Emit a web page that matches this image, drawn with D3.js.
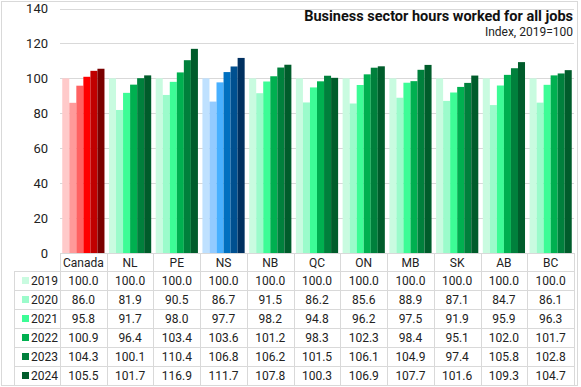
<!DOCTYPE html>
<html>
<head>
<meta charset="utf-8">
<script src="https://cdn.jsdelivr.net/npm/d3@7"></script>
<style>
  body { margin: 0; background: #fff; }
  svg { display: block; }
</style>
</head>
<body>
<div id="chart"></div>
<script>
// categories and series
const regions = ["Canada", "NL", "PE", "NS", "NB", "QC", "ON", "MB", "SK", "AB", "BC"];
const years = ["2019", "2020", "2021", "2022", "2023", "2024"];
const v2019 = [100.0, 100.0, 100.0, 100.0, 100.0, 100.0, 100.0, 100.0, 100.0, 100.0, 100.0];
const v2020 = [86.0, 81.9, 90.5, 86.7, 91.5, 86.2, 85.6, 88.9, 87.1, 84.7, 86.1];
const v2021 = [95.8, 91.7, 98.0, 97.7, 98.2, 94.8, 96.2, 97.5, 91.9, 95.9, 96.3];
const v2022 = [100.9, 96.4, 103.4, 103.6, 101.2, 98.3, 102.3, 98.4, 95.1, 102.0, 101.7];
const v2023 = [104.3, 100.1, 110.4, 106.8, 106.2, 101.5, 106.1, 104.9, 97.4, 105.8, 102.8];
const v2024 = [105.5, 101.7, 116.9, 111.7, 107.8, 100.3, 106.9, 107.7, 101.6, 109.3, 104.7];
const yTicks = [0, 20, 40, 60, 80, 100, 120, 140];

const series = [v2019, v2020, v2021, v2022, v2023, v2024];

// colour ramps per year
const greens = ["#c9fbe0", "#9bfbcb", "#3dfc96", "#00b050", "#00803c", "#005c2b"];
const reds = ["#ffcaca", "#ff9a9a", "#ff6262", "#ff0000", "#c00000", "#7a0000"];
const blues = ["#bfe1ff", "#93cbff", "#48b0ff", "#0070c0", "#005090", "#003060"];

function colorFor(region, i) {
    if (region === "Canada") return reds[i];
    if (region === "NS") return blues[i];
    return greens[i];
}

const W = 581, H = 387;
const margin = { top: 8.5, left: 60, right: 7, axisY: 253 };
const font = "Roboto, 'Liberation Sans', Arial, sans-serif";
const grid = "#d9d9d9";

const svg = d3.select("#chart").append("svg")
    .attr("width", W).attr("height", H)
    .attr("font-family", font);

// outer border
svg.append("rect")
    .attr("x", 1.5).attr("y", 1.5)
    .attr("width", W - 5).attr("height", H - 3)
    .attr("fill", "#fff").attr("stroke", "#d9d9d9");

const x = d3.scaleBand()
    .domain(regions)
    .range([margin.left, W - margin.right])
    .paddingInner(0).paddingOuter(0);

const xYear = d3.scaleBand()
    .domain(years)
    .range([0, x.bandwidth()])
    .paddingInner(0)
    .paddingOuter(0.32);

const y = d3.scaleLinear()
    .domain([0, 140])
    .range([margin.axisY, margin.top]);

// gridlines
svg.append("g")
    .selectAll("line")
    .data(yTicks.filter(d => d > 0))
    .join("line")
    .attr("x1", margin.left).attr("x2", W - margin.right)
    .attr("y1", d => Math.round(y(d)) + 0.5)
    .attr("y2", d => Math.round(y(d)) + 0.5)
    .attr("stroke", grid);

// y axis labels
svg.append("g")
    .selectAll("text")
    .data(yTicks)
    .join("text")
    .attr("x", 48)
    .attr("y", d => y(d))
    .attr("dy", "0.35em")
    .attr("text-anchor", "end")
    .attr("font-size", 13)
    .attr("fill", "#222")
    .text(d => d);

// bars
const groups = svg.append("g")
    .selectAll("g")
    .data(regions)
    .join("g")
    .attr("transform", d => `translate(${x(d)},0)`);

groups.selectAll("rect")
    .data((r, ri) => years.map((yr, i) => ({ region: r, year: yr, i: i, value: series[i][ri] })))
    .join("rect")
    .attr("x", d => xYear(d.year))
    .attr("width", xYear.bandwidth())
    .attr("y", d => y(d.value))
    .attr("height", d => y(0) - y(d.value))
    .attr("fill", d => colorFor(d.region, d.i));

// data table
const rowH = 19;
const headTop = margin.axisY;
const headH = 18;
const tableLeft = 14;
const tableRight = W - margin.right;
const tableBottom = headTop + headH + rowH * years.length;

const table = svg.append("g");

// horizontal lines
const hLines = [headTop + headH].concat(years.map((yr, i) => headTop + headH + rowH * (i + 1)));
table.selectAll("line.h")
    .data(hLines)
    .join("line")
    .attr("class", "h")
    .attr("x1", tableLeft).attr("x2", tableRight)
    .attr("y1", d => Math.round(d) + 0.5).attr("y2", d => Math.round(d) + 0.5)
    .attr("stroke", grid);

// axis line at 0 across plot
table.append("line")
    .attr("x1", margin.left).attr("x2", tableRight)
    .attr("y1", Math.round(headTop) + 0.5).attr("y2", Math.round(headTop) + 0.5)
    .attr("stroke", grid);

// vertical lines
const vLines = regions.map(r => x(r)).concat([tableRight]);
table.selectAll("line.v")
    .data(vLines)
    .join("line")
    .attr("class", "v")
    .attr("x1", d => Math.round(d) + 0.5).attr("x2", d => Math.round(d) + 0.5)
    .attr("y1", headTop).attr("y2", tableBottom)
    .attr("stroke", grid);
table.append("line")
    .attr("x1", tableLeft + 0.5).attr("x2", tableLeft + 0.5)
    .attr("y1", headTop + headH).attr("y2", tableBottom)
    .attr("stroke", grid);

// header labels
table.selectAll("text.head")
    .data(regions)
    .join("text")
    .attr("class", "head")
    .attr("x", d => x(d) + x.bandwidth() / 2)
    .attr("y", headTop + headH / 2 + 1)
    .attr("dy", "0.35em")
    .attr("text-anchor", "middle")
    .attr("font-size", 12)
    .attr("fill", "#222")
    .text(d => d);

// rows
years.forEach((yr, i) => {
    const cy = headTop + headH + rowH * i + rowH / 2;
    table.append("rect")
        .attr("x", 22).attr("y", cy - 3.5)
        .attr("width", 7).attr("height", 7)
        .attr("fill", greens[i]);
    table.append("text")
        .attr("x", 31).attr("y", cy)
        .attr("dy", "0.35em")
        .attr("font-size", 12)
        .attr("fill", "#222")
        .text(yr);
    table.selectAll(null)
        .data(regions)
        .join("text")
        .attr("x", d => x(d) + x.bandwidth() / 2)
        .attr("y", cy)
        .attr("dy", "0.35em")
        .attr("text-anchor", "middle")
        .attr("font-size", 12)
        .attr("fill", "#222")
        .text((d, ri) => series[i][ri].toFixed(1));
});

// title
svg.append("text")
    .attr("x", 573).attr("y", 21)
    .attr("text-anchor", "end")
    .attr("font-size", 14.5)
    .attr("font-weight", "bold")
    .attr("fill", "#111")
    .text("Business sector hours worked for all jobs");
svg.append("text")
    .attr("x", 573).attr("y", 36)
    .attr("text-anchor", "end")
    .attr("font-size", 12)
    .attr("fill", "#222")
    .text("Index, 2019=100");
</script>
</body>
</html>
